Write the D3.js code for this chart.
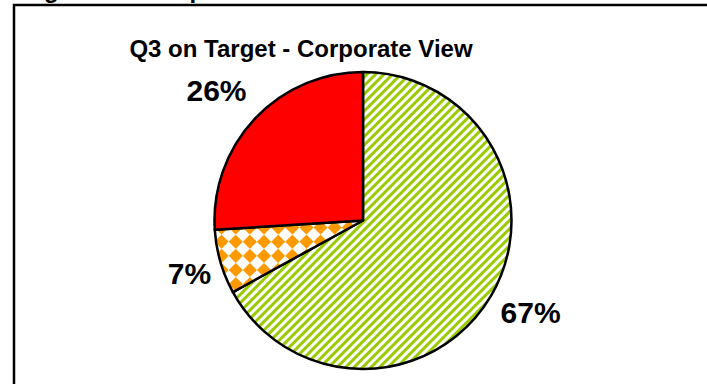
<!DOCTYPE html>
<html>
<head>
<meta charset="utf-8">
<script src="https://cdn.jsdelivr.net/npm/d3@7"></script>
<style>
  html, body { margin: 0; padding: 0; background: #fff; }
  svg { display: block; }
  text { font-family: "Liberation Sans", Arial, sans-serif; font-weight: bold; fill: #000; }
</style>
</head>
<body>
<svg id="chart" width="707" height="384"></svg>
<script>
// Share of Q3 targets by status, clockwise from 12 o'clock
const categories = ["On target", "At risk", "Off target"];
const values = [67, 7, 26];
const labels = ["67%", "7%", "26%"];
const fills = ["url(#greenStripes)", "url(#orangeDiamonds)", "#FF0000"];

const heading = "Progress vs Corporate";
const title = "Q3 on Target - Corporate View";

const W = 707, H = 384;
const svg = d3.select("#chart");

// Fill patterns
const defs = svg.append("defs");
const stripes = defs.append("pattern")
  .attr("id", "greenStripes")
  .attr("patternUnits", "userSpaceOnUse")
  .attr("width", 6).attr("height", 6)
  .attr("patternTransform", "rotate(45)");
stripes.append("rect").attr("width", 6).attr("height", 6).attr("fill", "#fff");
stripes.append("rect").attr("width", 3).attr("height", 6).attr("fill", "#99CC00");

const cell = 10;
const diamonds = defs.append("pattern")
  .attr("id", "orangeDiamonds")
  .attr("patternUnits", "userSpaceOnUse")
  .attr("width", cell * 2).attr("height", cell * 2)
  .attr("patternTransform", "rotate(45)");
diamonds.append("rect").attr("width", cell * 2).attr("height", cell * 2).attr("fill", "#fff");
diamonds.append("rect").attr("width", cell).attr("height", cell).attr("fill", "#FF9900");
diamonds.append("rect").attr("x", cell).attr("y", cell).attr("width", cell).attr("height", cell).attr("fill", "#FF9900");

// Heading running above the frame (clipped by the top of the page)
svg.append("text")
  .attr("x", 4).attr("y", -2)
  .attr("font-size", 24)
  .text(heading);

// Chart frame
svg.append("path")
  .attr("d", `M14,${H} L14,5 L${W},5`)
  .attr("fill", "none")
  .attr("stroke", "#000")
  .attr("stroke-width", 2.5);

// Title
svg.append("text")
  .attr("x", 301).attr("y", 57)
  .attr("text-anchor", "middle")
  .attr("font-size", 24)
  .text(title);

// Pie
const cx = 363, cy = 220.5, r = 148.5;
const pie = d3.pie().sort(null).value(d => d)(values);
const arc = d3.arc().innerRadius(0).outerRadius(r);
const g = svg.append("g").attr("transform", `translate(${cx},${cy})`);

g.selectAll("path.slice")
  .data(pie)
  .join("path")
  .attr("class", "slice")
  .attr("d", arc)
  .attr("fill", (d, i) => fills[i])
  .attr("stroke", "#000")
  .attr("stroke-width", 2.5)
  .attr("stroke-linejoin", "round");

// Percentage labels outside the pie, nudged clear of the rim
const labelArc = d3.arc().innerRadius(190).outerRadius(190);
const nudge = [[4, -5], [9, 0], [-8, 0]];
g.selectAll("text.pct")
  .data(pie)
  .join("text")
  .attr("class", "pct")
  .attr("transform", (d, i) => {
    const [x, y] = labelArc.centroid(d);
    return `translate(${x + nudge[i][0]},${y + nudge[i][1]})`;
  })
  .attr("text-anchor", "middle")
  .attr("dy", "0.36em")
  .attr("font-size", 30)
  .text((d, i) => labels[i]);
</script>
</body>
</html>
